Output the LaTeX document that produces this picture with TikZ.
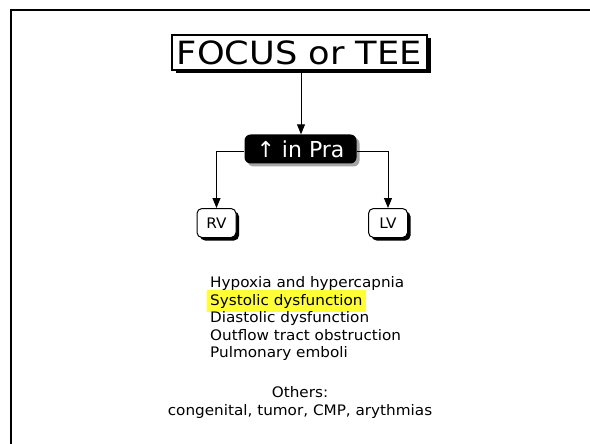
\documentclass[tikz,border=0pt]{standalone}
\usepackage{fontspec}
\setmainfont{DejaVu Sans}
\newfontfamily\titlefont[FakeStretch=1.1]{DejaVu Sans}
\newfontfamily\bodyfont[FakeStretch=1.05]{DejaVu Sans}
\usetikzlibrary{arrows.meta,shadows}
\definecolor{hiyellow}{RGB}{255,255,51}
\tikzset{
  conn/.style={draw=black, line width=1pt, -{Triangle[width=8pt,length=10pt]}},
  titlebox/.style={draw=black, line width=1.2pt, fill=white, inner sep=0pt,
    minimum width=255pt, minimum height=35pt,
    font=\titlefont\fontsize{32}{36}\selectfont,
    drop shadow={shadow xshift=3.5pt, shadow yshift=-3.5pt, fill=black, opacity=1}},
  darkbox/.style={fill=black, rounded corners=6pt, inner sep=0pt,
    minimum width=112pt, minimum height=29pt, text=white,
    font=\fontsize{22}{26}\selectfont,
    drop shadow={shadow xshift=3pt, shadow yshift=-3pt, fill=black!35, opacity=1}},
  smallbox/.style={draw=black, line width=1pt, fill=white, rounded corners=5pt,
    inner sep=0pt, minimum width=39pt, minimum height=29pt,
    font=\bodyfont\fontsize{14.5}{17}\selectfont,
    drop shadow={shadow xshift=3pt, shadow yshift=-3pt, fill=black, opacity=1}},
  listtext/.style={anchor=base west, inner sep=0pt, font=\bodyfont\fontsize{14.5}{17}\selectfont},
  othertext/.style={anchor=base, inner sep=0pt, font=\bodyfont\fontsize{14.5}{17}\selectfont},
}
\begin{document}
\begin{tikzpicture}[x=1pt,y=-1pt]
  % canvas and slide frame
  \useasboundingbox (0,0) rectangle (590,444);
  \fill[white] (0,0) rectangle (590,444);
  \draw[line width=2.6pt] (11,446) -- (11,10) -- (592,10);

  % nodes
  \node[titlebox] (focus) at (299.5,52.5) {FOCUS or TEE};
  \node[darkbox] (pra) at (300.5,149) {↑ in Pra};
  \node[smallbox] (rv) at (216.5,223) {RV};
  \node[smallbox] (lv) at (388,223) {LV};

  % connectors
  \draw[conn] (focus.south -| 301,0) -- (pra.north -| 301,0);
  \draw[conn] ([yshift=-3pt]pra.west) -| (rv.north);
  \draw[conn] ([yshift=-3pt]pra.east) -| (lv.north);

  % causes
  \node[listtext] (l1) at (210,287) {Hypoxia and hypercapnia};
  \node[listtext, fill=hiyellow, inner xsep=3pt, inner ysep=3.5pt] (l2) at (207,305) {Systolic dysfunction};
  \node[listtext] (l3) at (210,322.5) {Diastolic dysfunction};
  \node[listtext] (l4) at (210,340) {Outflow tract obstruction};
  \node[listtext] (l5) at (210,357.5) {Pulmonary emboli};

  \node[othertext] (o1) at (300,397) {Others:};
  \node[othertext] (o2) at (300,415) {congenital, tumor, CMP, arythmias};
\end{tikzpicture}
\end{document}
